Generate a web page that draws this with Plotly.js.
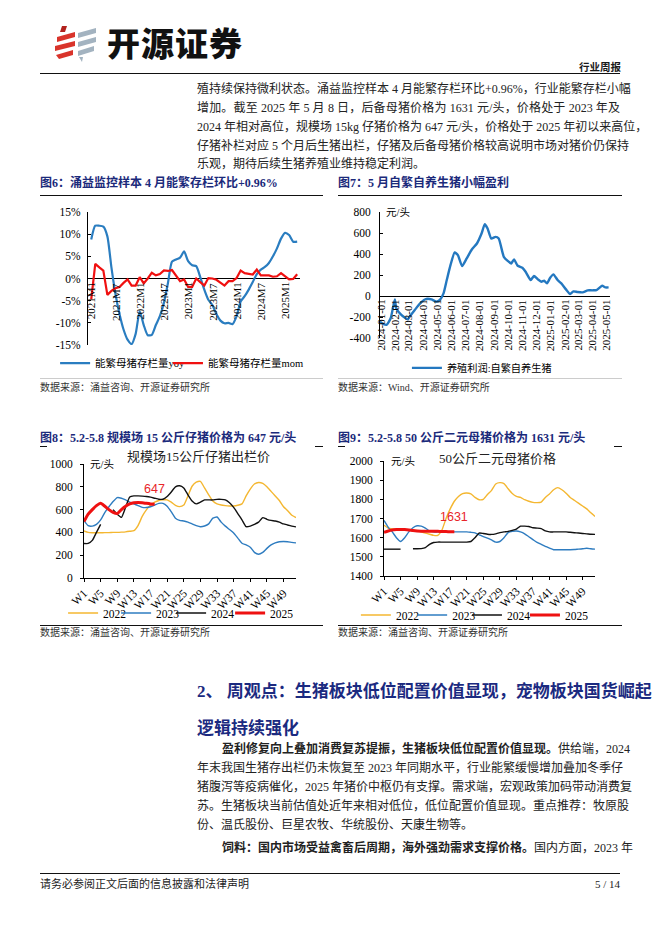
<!DOCTYPE html>
<html><head><meta charset="utf-8">
<script src="https://cdn.plot.ly/plotly-3.0.1.min.js"></script>
<style>
body{margin:0;width:662px;height:936px;position:relative;background:#fff;overflow:hidden;font-family:"Liberation Serif","Noto Sans CJK SC",serif;color:#1a1a1a;}
.a{position:absolute;white-space:nowrap;}
.tl{position:absolute;white-space:nowrap;font-size:12px;line-height:18px;height:18px;text-align:justify;text-align-last:justify;color:#222;}
.tl.last{text-align:left;text-align-last:left;}
.ct{position:absolute;white-space:nowrap;font-size:12px;font-weight:bold;color:#1b2a7b;line-height:16px;}
.src{position:absolute;white-space:nowrap;font-size:10px;color:#333;line-height:12px;}
.hl{position:absolute;background:#111;}
.ch{position:absolute;}
</style></head>
<body>
<!-- logo -->
<svg class="a" style="left:50px;top:22px" width="52" height="42" viewBox="50 22 52 42">
<polygon points="62,26 67,26 65,32 60,32" fill="#b2221e"/>
<polygon points="57,37 75,32 75,37 57,42" fill="#d9342b"/>
<polygon points="55,46 75,41 75,46 55,51" fill="#d9342b"/>
<polygon points="56,55 73,50 73,55 59,59" fill="#d9342b"/>
<polygon points="78,33 96,28 96,33 78,38" fill="#a3b3c0"/>
<polygon points="78,42 96,37 96,42 78,47" fill="#a3b3c0"/>
<polygon points="78,51 94,46 94,51 78,56" fill="#a3b3c0"/>
<polygon points="79,57 83,57 82,62" fill="#a3b3c0"/>
</svg>
<div class="a" style="left:107px;top:20px;font-family:'Noto Sans CJK SC';font-weight:900;font-size:33px;line-height:44px;color:#111;letter-spacing:1px;">开源证券</div>
<div class="a" style="left:579px;top:60px;font-family:'Noto Sans CJK SC';font-weight:bold;font-size:10.5px;line-height:13px;">行业周报</div>
<div class="hl" style="left:40px;top:73px;width:580px;height:1.2px;"></div>

<!-- top paragraph -->
<div class="tl" style="left:197px;top:80px;width:423px;">殖持续保持微利状态。涌益监控样本 4 月能繁存栏环比+0.96%，行业能繁存栏小幅</div>
<div class="tl" style="left:197px;top:99px;width:423px;">增加。截至 2025 年 5 月 8 日，后备母猪价格为 1631 元/头，价格处于 2023 年及</div>
<div class="tl" style="left:197px;top:118px;width:423px;">2024 年相对高位，规模场 15kg 仔猪价格为 647 元/头，价格处于 2025 年初以来高位，</div>
<div class="tl" style="left:197px;top:137px;width:423px;">仔猪补栏对应 5 个月后生猪出栏，仔猪及后备母猪价格较高说明市场对猪价仍保持</div>
<div class="tl last" style="left:197px;top:155px;width:423px;">乐观，期待后续生猪养殖业维持稳定利润。</div>

<!-- chart titles row 1 -->
<div class="ct" style="left:40px;top:175px;">图6：涌益监控样本 4 月能繁存栏环比+0.96%</div>
<div class="hl" style="left:40px;top:195px;width:283px;height:1.3px;"></div>
<div class="ct" style="left:338px;top:175px;">图7：5 月自繁自养生猪小幅盈利</div>
<div class="hl" style="left:338px;top:195px;width:284px;height:1.3px;"></div>

<div id="c6" class="ch" style="left:40px;top:198px;width:285px;height:180px;"></div>
<div id="c7" class="ch" style="left:335px;top:198px;width:290px;height:180px;"></div>

<div class="hl" style="left:40px;top:378px;width:283px;height:1px;background:#ccc;"></div>
<div class="hl" style="left:338px;top:378px;width:284px;height:1px;background:#ccc;"></div>
<div class="src" style="left:40px;top:382px;">数据来源：涌益咨询、开源证券研究所</div>
<div class="src" style="left:338px;top:382px;">数据来源：Wind、开源证券研究所</div>

<!-- chart titles row 2 -->
<div class="ct" style="left:40px;top:430px;">图8：5.2-5.8 规模场 15 公斤仔猪价格为 647 元/头</div>
<div class="hl" style="left:40px;top:446px;width:7px;height:1.3px;"></div>
<div class="hl" style="left:315px;top:446px;width:8px;height:1.3px;"></div>
<div class="ct" style="left:338px;top:430px;">图9：5.2-5.8 50 公斤二元母猪价格为 1631 元/头</div>
<div class="hl" style="left:338px;top:446px;width:7px;height:1.3px;"></div>
<div class="hl" style="left:614px;top:446px;width:8px;height:1.3px;"></div>

<div id="c8" class="ch" style="left:40px;top:448px;width:285px;height:176px;"></div>
<div id="c9" class="ch" style="left:335px;top:448px;width:290px;height:176px;"></div>

<div class="hl" style="left:40px;top:625px;width:283px;height:1.2px;"></div>
<div class="hl" style="left:338px;top:625px;width:284px;height:1.2px;"></div>
<div class="src" style="left:40px;top:627px;">数据来源：涌益咨询、开源证券研究所</div>
<div class="src" style="left:338px;top:627px;">数据来源：涌益咨询、开源证券研究所</div>

<!-- section heading -->
<div class="a" style="left:197px;top:681px;width:423px;font-size:17px;line-height:22px;font-weight:bold;color:#1b2a80;text-align:justify;text-align-last:justify;">2、 周观点：生猪板块低位配置价值显现，宠物板块国货崛起</div>
<div class="a" style="left:197px;top:718px;font-size:17px;line-height:22px;font-weight:bold;color:#1b2a80;">逻辑持续强化</div>

<div class="tl" style="left:222px;top:740px;width:398px;"><b>盈利修复向上叠加消费复苏提振，生猪板块低位配置价值显现。</b>供给端，2024</div>
<div class="tl" style="left:197px;top:759px;width:423px;">年末我国生猪存出栏仍未恢复至 2023 年同期水平，行业能繁缓慢增加叠加冬季仔</div>
<div class="tl" style="left:197px;top:778px;width:423px;">猪腹泻等疫病催化，2025 年猪价中枢仍有支撑。需求端，宏观政策加码带动消费复</div>
<div class="tl" style="left:197px;top:797px;width:423px;">苏。生猪板块当前估值处近年来相对低位，低位配置价值显现。重点推荐：牧原股</div>
<div class="tl last" style="left:197px;top:816px;width:423px;">份、温氏股份、巨星农牧、华统股份、天康生物等。</div>
<div class="tl" style="left:222px;top:839px;width:398px;"><b>饲料：国内市场受益禽畜后周期，海外强劲需求支撑价格。</b>国内方面，2023 年</div>

<div class="hl" style="left:40px;top:873px;width:580px;height:1.2px;"></div>
<div class="a" style="left:40px;top:877px;font-size:11px;line-height:14px;color:#222;">请务必参阅正文后面的信息披露和法律声明</div>
<div class="a" style="left:588px;top:877px;width:32px;text-align:right;font-size:11px;line-height:14px;color:#222;">5 / 14</div>

<script>
// ---------- Chart 6 data ----------
const months6 = ['2021M1','2021M2','2021M3','2021M4','2021M5','2021M6','2021M7','2021M8','2021M9','2021M10','2021M11','2021M12',
'2022M1','2022M2','2022M3','2022M4','2022M5','2022M6','2022M7','2022M8','2022M9','2022M10','2022M11','2022M12',
'2023M1','2023M2','2023M3','2023M4','2023M5','2023M6','2023M7','2023M8','2023M9','2023M10','2023M11','2023M12',
'2024M1','2024M2','2024M3','2024M4','2024M5','2024M6','2024M7','2024M8','2024M9','2024M10','2024M11','2024M12',
'2025M1','2025M2','2025M3','2025M4'];
const yoy6 = [8.8,11.9,11.9,11.7,9.5,2.5,-3.5,-8,-11.5,-13.8,-14.8,-12.5,
-7.4,-10.5,-12.8,-12.7,-10.5,-8.5,-5.5,-1,3.8,4.3,4.7,6.1,
3.9,3.0,2.8,0.3,-2.5,-4.8,-6,-8,-9.5,-10.1,-10,-10.3,
-8.5,-5.2,-4,-2.5,-0.8,1.0,2,2.6,3.5,5,6.8,9,
10.3,9.8,8.3,8.3];
const mom6 = [-4.7,3.3,2.5,1.8,-3.7,-2.8,-2.2,-1.9,-1.0,-0.2,-1.6,-1.6,
0.3,-1.1,0,1.3,0.7,1.0,1.8,1.7,1.9,0.5,-0.6,-0.2,
-1.9,-1.9,0,-0.8,-1.6,0.1,0,-0.3,-0.9,-1.6,-0.6,-0.6,
0.1,1.8,1.2,1.0,0.9,2.0,0.7,0.7,0.7,0.4,0.5,1.2,
0.4,-0.2,-0.1,0.96];
const ticks6 = ['2021M1','2021M7','2022M1','2022M7','2023M1','2023M7','2024M1','2024M7','2025M1'];
const yt6 = [-15,-10,-5,0,5,10,15];
const ytt6 = ['-15%','-10%','-5%','0%','5%','10%','15%'];
const names6 = ['能繁母猪存栏量yoy','能繁母猪存栏量mom'];

// ---------- Chart 7 data ----------
const dates7 = ['2024-01-01','2024-01-08','2024-01-15','2024-01-24','2024-02-02','2024-02-05','2024-02-16','2024-03-01','2024-03-06','2024-03-16','2024-03-29','2024-04-10','2024-04-21','2024-05-01','2024-05-09','2024-05-17','2024-05-24','2024-06-01','2024-06-10','2024-06-17','2024-06-26','2024-07-06','2024-07-17','2024-07-28','2024-08-07','2024-08-14','2024-08-20','2024-08-28','2024-09-06','2024-09-13','2024-09-24','2024-10-03','2024-10-10','2024-10-16','2024-10-24','2024-11-03','2024-11-10','2024-11-21','2024-11-28','2024-12-06','2024-12-14','2024-12-20','2024-12-26','2025-01-02','2025-01-09','2025-01-18','2025-01-26','2025-02-05','2025-02-14','2025-02-21','2025-03-02','2025-03-13','2025-03-24','2025-04-03','2025-04-12','2025-04-24','2025-05-01','2025-05-08'];
const profit7 = [-244,-266,-275,-212,-32,-117,-180,-222,-190,-133,-63,-28,-32,-54,-38,25,152,294,415,389,285,358,443,500,595,684,642,547,563,547,373,332,310,348,288,269,231,152,190,161,136,146,120,174,206,152,120,63,19,44,38,35,54,54,57,98,82,82];
const ticks7 = ['2024-01-01','2024-02-01','2024-03-01','2024-04-01','2024-05-01','2024-06-01','2024-07-01','2024-08-01','2024-09-01','2024-10-01','2024-11-01','2024-12-01','2025-01-01','2025-02-01','2025-03-01','2025-04-01','2025-05-01'];
const yt7 = [-400,-200,0,200,400,600,800];
const ytt7 = ['-400','-200','0','200','400','600','800'];
const name7 = '养殖利润:自繁自养生猪';

// ---------- Charts 8/9 shared ----------
const weeks = ['W1','W2','W3','W4','W5','W6','W7','W8','W9','W10','W11','W12','W13','W14','W15','W16','W17','W18','W19','W20','W21','W22','W23','W24','W25','W26','W27','W28','W29','W30','W31','W32','W33','W34','W35','W36','W37','W38','W39','W40','W41','W42','W43','W44','W45','W46','W47','W48','W49','W50','W51','W52'];
const weekTicks = ['W1','W5','W9','W13','W17','W21','W25','W29','W33','W37','W41','W45','W49'];
const years = ['2022','2023','2024','2025'];

// ---------- Chart 8 data ----------
const p8_2022 = [412,400,397,397,397,398,398,400,400,402,405,410,415,460,540,597,640,665,680,685,685,665,638,626,640,720,805,840,847,790,730,675,650,640,635,632,632,638,650,720,780,825,838,830,800,760,720,680,625,590,550,530];
const p8_2023 = [503,459,455,470,510,574,625,671,705,700,685,665,650,635,620,618,625,640,655,655,630,580,525,505,500,490,475,460,450,456,475,525,535,490,455,425,395,350,305,290,270,225,208,225,260,290,308,318,320,318,312,308];
const p8_2024 = [303,303,330,400,470,null,null,600,560,532,620,710,720,720,718,715,709,700,691,691,715,755,800,809,790,730,675,650,665,685,685,685,690,690,685,660,620,565,510,450,455,470,490,530,515,505,500,490,474,465,455,448];
const p8_2025 = [495,560,600,635,655,630,600,575,565,600,630,650,660,662,660,655,650,647];
const label8 = '647';

// ---------- Chart 9 data ----------
const p9_2022 = [1665,1650,1645,1642,1642,1642,1640,1638,1636,1630,1624,1618,1612,1612,1640,1700,1750,1790,1815,1830,1833,1828,1810,1798,1800,1825,1847,1880,1887,1882,1855,1830,1815,1810,1798,1790,1784,1783,1786,1810,1828,1850,1861,1850,1832,1810,1795,1780,1765,1750,1730,1711];
const p9_2023 = [1690,1655,1630,1600,1580,1600,1630,1652,1662,1660,1650,1635,1630,1630,1630,1630,1630,1630,1630,1630,1630,1628,1625,1615,1605,1598,1588,1577,1580,1600,1626,1633,1635,1630,1620,1605,1590,1575,1565,1555,1545,1537,1537,1537,1537,1537,1538,1540,1542,1545,1542,1540];
const p9_2024 = [1540,1540,1540,1540,1540,null,null,1542,1542,1543,1548,1565,1575,1577,1577,1577,1577,1577,1577,1577,1577,1580,1600,1624,1622,1618,1617,1620,1626,1630,1633,1638,1645,1660,1660,1658,1652,1650,1647,1635,1630,1630,1630,1630,1630,1628,1626,1624,1622,1620,1618,1617];
const p9_2025 = [1628,1635,1640,1642,1643,1642,1640,1637,1635,1634,1634,1633,1633,1633,1632,1632,1631,1631];
const label9 = '1631';

// ---------- styles ----------
const SERIF = 'Liberation Serif, Noto Sans CJK SC, serif';
const tickFont = {family: SERIF, size: 11.5, color: '#000'};
const cfg = {staticPlot: true, displayModeBar: false};
const yearColors = ['#f4b731','#2e7cc0','#111111','#ee1111'];
const yearWidths = [1.4,1.4,1.4,3];

function leg(x, y, fs) {
  return {orientation: 'h', x: x, y: y, xref: 'container', yref: 'container', xanchor: 'left', yanchor: 'middle', valign: 'middle', bgcolor: 'rgba(0,0,0,0)', font: {family: SERIF, size: fs, color: '#000'}, itemwidth: 30, tracegroupgap: 0};
}

// ---------- Chart 6 ----------
(function(){
  const data = [
    {x: months6, y: yoy6, type: 'scatter', mode: 'lines', name: names6[0], line: {color: '#2a7dc0', width: 2.2, shape: 'spline', smoothing: 0.6}, legend: 'legend'},
    {x: months6, y: mom6, type: 'scatter', mode: 'lines', name: names6[1], line: {color: '#f01010', width: 2.2}, legend: 'legend2'}
  ];
  const ann = ticks6.map(t => ({x: t, y: 0, xref: 'x', yref: 'y', text: t, showarrow: false, textangle: -90, xanchor: 'center', yanchor: 'top', yshift: -2, font: {family: SERIF, size: 11, color: '#000'}}));
  const layout = {
    width: 285, height: 180, margin: {l: 48, r: 25, t: 14, b: 33},
    paper_bgcolor: 'rgba(0,0,0,0)', plot_bgcolor: 'rgba(0,0,0,0)', showlegend: true,
    xaxis: {type: 'category', range: [-0.8, 51.7], showline: false, showticklabels: false, ticks: '', showgrid: false, zeroline: false},
    yaxis: {range: [-15, 15], tickvals: yt6, ticktext: ytt6, showline: true, linecolor: '#000', linewidth: 1, ticks: 'inside', ticklen: 3, tickcolor: '#000', showgrid: false, zeroline: true, zerolinecolor: '#000', zerolinewidth: 1, tickfont: tickFont, ticklabelstandoff: 4},
    legend: leg(0.053, 0.083, 10.5), legend2: leg(0.449, 0.083, 10.5),
    annotations: ann
  };
  Plotly.newPlot('c6', data, layout, cfg);
})();

// ---------- Chart 7 ----------
(function(){
  const data = [{x: dates7, y: profit7, type: 'scatter', mode: 'lines', name: name7, line: {color: '#2478c0', width: 2.4, shape: 'spline', smoothing: 0.5}}];
  const ann = ticks7.map(t => ({x: t, y: 0, xref: 'x', yref: 'y', text: t, showarrow: false, textangle: -90, xanchor: 'center', yanchor: 'top', yshift: -2, font: {family: SERIF, size: 11, color: '#000'}}));
  ann.push({x: 0.08, y: 1, xref: 'paper', yref: 'paper', text: '元/头', showarrow: false, xanchor: 'center', yanchor: 'middle', font: {family: SERIF, size: 10.5, color: '#000'}});
  const layout = {
    width: 290, height: 180, margin: {l: 45, r: 15, t: 14, b: 40},
    paper_bgcolor: 'rgba(0,0,0,0)', plot_bgcolor: 'rgba(0,0,0,0)', showlegend: true,
    xaxis: {type: 'date', range: ['2024-01-01', '2025-05-11'], showline: false, showticklabels: false, ticks: '', showgrid: false, zeroline: false},
    yaxis: {range: [-400, 800], tickvals: yt7, ticktext: ytt7, showline: true, linecolor: '#000', linewidth: 1, ticks: 'inside', ticklen: 3, tickcolor: '#000', showgrid: false, zeroline: true, zerolinecolor: '#000', zerolinewidth: 1, tickfont: tickFont, ticklabelstandoff: 6},
    legend: leg(0.248, 0.056, 10.2),
    annotations: ann
  };
  Plotly.newPlot('c7', data, layout, cfg);
})();

// ---------- Charts 8 & 9 ----------
function yearChart(div, series, yr, ytv, legX, legY, subtitle, subX, subY, unitX, label, labelVal, m) {
  const legNames = ['legend','legend2','legend3','legend4'];
  const data = series.map((s, i) => ({
    x: weeks.slice(0, s.length), y: s, type: 'scatter', mode: 'lines', name: years[i],
    line: {color: yearColors[i], width: yearWidths[i], shape: 'spline', smoothing: 0.5},
    connectgaps: false, legend: legNames[i]
  }));
  const layout = {
    width: m.w, height: 176, margin: {l: m.l, r: m.r, t: m.t, b: m.b},
    paper_bgcolor: '#fff', plot_bgcolor: '#fff', showlegend: true,
    xaxis: {type: 'category', categoryarray: weeks, range: [0, 51], tickvals: weekTicks, ticktext: weekTicks, tickangle: -45, automargin: false,
            showline: true, linecolor: '#000', linewidth: 1, ticks: 'outside', ticklen: 3, tickcolor: '#000', showgrid: false, zeroline: false, tickfont: tickFont},
    yaxis: {range: yr, tickvals: ytv, ticktext: ytv.map(String), automargin: false, showline: true, linecolor: '#000', linewidth: 1, ticks: 'outside', ticklen: 3, tickcolor: '#000', showgrid: false, zeroline: false, tickfont: tickFont, ticklabelstandoff: 5},
    annotations: [
      {x: subX, y: subY, xref: 'paper', yref: 'paper', text: subtitle, showarrow: false, xanchor: 'center', yanchor: 'middle', font: {family: SERIF, size: 13, color: '#222'}},
      {x: unitX, y: 1, xref: 'paper', yref: 'paper', text: '元/头', showarrow: false, xanchor: 'center', yanchor: 'middle', font: {family: SERIF, size: 10.5, color: '#000'}},
      {x: 'W18', y: labelVal, xref: 'x', yref: 'y', text: label, showarrow: false, xanchor: 'center', yanchor: 'bottom', yshift: 6, font: {family: 'Liberation Sans, Arial, sans-serif', size: 12.5, color: '#e8262a'}}
    ]
  };
  legNames.forEach((ln, i) => { layout[ln] = leg(legX[i], legY, 11.5); });
  Plotly.newPlot(div, data, layout, cfg);
}

yearChart('c8', [p8_2022, p8_2023, p8_2024, p8_2025], [0, 1000], [0,200,400,600,800,1000],
  [0.081, 0.267, 0.46, 0.667], 0.0625, '规模场15公斤仔猪出栏价', 0.54, 1.065, 0.085, label8, p8_2025[p8_2025.length-1],
  {w: 285, l: 44, r: 29, t: 16, b: 46});

yearChart('c9', [p9_2022, p9_2023, p9_2024, p9_2025], [1400, 2000], [1400,1500,1600,1700,1800,1900,2000],
  [0.072, 0.266, 0.455, 0.655], 0.051, '50公斤二元母猪价格', 0.54, 1.025, 0.09, label9, p9_2025[p9_2025.length-1],
  {w: 290, l: 49, r: 30, t: 13, b: 48});
</script>
</body></html>
